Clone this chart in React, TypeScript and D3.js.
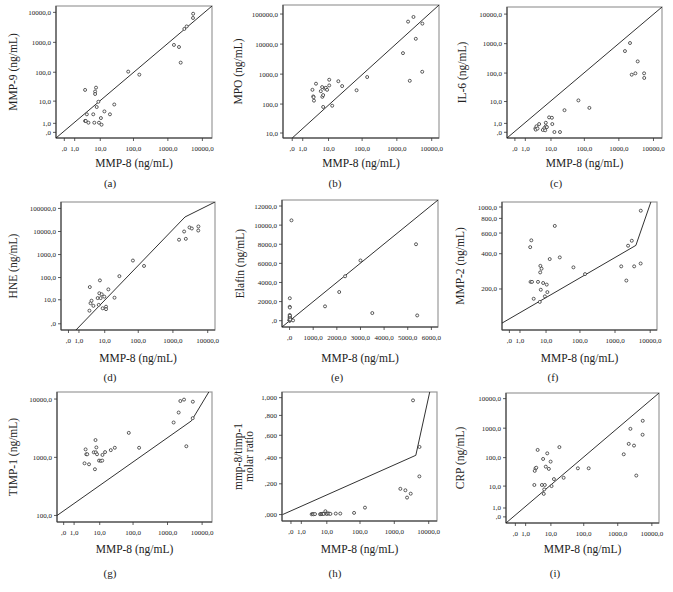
import * as d3 from "d3";

// MMP-8 on x for every panel; the y variable changes per panel
const logTicks = [0, 1, 10, 100, 1000, 10000];

const ptsA: [number, number][] = [
  [3, 25], [3, 1.4], [3.2, 1.4], [3.5, 3], [4, 1.1], [5.9, 3], [6.4, 1.1], [6.8, 22], [6.8, 18],
  [7.3, 30], [7.7, 6], [8.7, 9.5], [9.1, 1.1], [10.5, 2], [11, 0.8], [13.5, 4], [20, 3], [27, 7.5],
  [70, 105], [148, 83], [1500, 820], [2100, 700], [2350, 210], [3000, 2800], [3500, 3400], [5400, 9000], [5350, 6500],
];
const ptsB: [number, number][] = [
  [2.8, 300], [3, 180], [3.1, 170], [3.2, 130], [3.8, 480], [5.6, 270], [6.2, 370], [6.3, 175], [6.7, 200],
  [6.7, 80], [7.6, 330], [8.2, 350], [9, 300], [10.5, 650], [10.5, 420], [13, 88], [20, 580], [26, 400],
  [69, 290], [140, 800], [1500, 5000], [2100, 56000], [2350, 600], [3000, 80000], [3500, 15000], [5400, 48000], [5350, 1200],
];
const ptsC: [number, number][] = [
  [2.9, 0.35], [3, 0.23], [3.2, 0.6], [3.5, 0.34], [4, 0.9], [5.4, 0.2], [6.1, 0.4], [6.5, 0.17], [6.8, 0.6],
  [6.8, 1.1], [7.4, 0.5], [8.7, 2.2], [10.7, 2.1], [11, 0.9], [12.8, 0.02], [19, 0.02], [26, 4.6], [67, 11],
  [140, 5.7], [1500, 560], [2100, 1050], [2350, 88], [3000, 98], [3500, 250], [5350, 98], [5400, 68],
];
const ptsD: [number, number][] = [
  [3, 2.7], [3.1, 38], [3.3, 6.8], [3.6, 9], [4.2, 5], [5.9, 12], [6.4, 5.6], [6.7, 20], [7, 75],
  [7.4, 12], [8, 18], [8.6, 3.7], [9.7, 14], [11, 4.5], [11, 3.3], [13, 30], [20, 12.5], [28, 115],
  [70, 550], [147, 320], [1500, 4400], [2100, 10000], [2350, 4800], [3000, 15000], [3500, 13500], [5400, 16500], [5350, 11000],
];
const ptsE: [number, number][] = [
  [80, 10500], [10, 2350], [8, 1450], [12, 1380], [5, 600], [7, 450], [3, 300], [9, 150], [4, 80],
  [6, 30], [10, 200], [12, 60], [8, 20], [3, 10], [7, 100], [11, 380], [13, 520], [20, 250], [27, 120],
  [148, 30], [1500, 1500], [2100, 3000], [2350, 4650], [3000, 6300], [3500, 800], [5350, 8000], [5400, 550],
];
const ptsF: [number, number][] = [
  [2.9, 455], [3.2, 520], [3, 230], [3.4, 230], [3.9, 165], [5.5, 230], [6.5, 277], [6.6, 315], [7.2, 298],
  [6.8, 197], [6.3, 155], [8.1, 225], [9.2, 173], [10.5, 218], [11, 188], [13, 360], [18.5, 690], [26, 372],
  [65, 306], [140, 268], [1500, 312], [2100, 236], [2350, 468], [3000, 516], [3500, 312], [5350, 330], [5400, 930],
];
const ptsG: [number, number][] = [
  [3.3, 1370], [3, 790], [3.5, 1130], [3.8, 1130], [4.4, 760], [6.4, 1220], [7.3, 1980], [7, 625], [7.5, 1220],
  [7.8, 1480], [8.2, 1130], [9.5, 880], [10.8, 870], [12, 880], [12.2, 1100], [14.7, 1230], [22, 1330], [29, 1460],
  [75, 2630], [150, 1460], [1500, 3960], [2100, 5870], [2350, 9250], [3000, 9770], [3500, 1550], [5400, 9000], [5350, 4700],
];
const ptsH: [number, number][] = [
  [3, 0.002], [3.3, 0.003], [3.5, 0.002], [4, 0.003], [6, 0.002], [6.5, 0.004], [7, 0.003], [7.5, 0.005], [8, 0.004],
  [9, 0.02], [9.5, 0.006], [10, 0.004], [11, 0.007], [12, 0.005], [13, 0.004], [19, 0.006], [26, 0.006],
  [67, 0.01], [140, 0.042], [1500, 0.165], [2100, 0.155], [2350, 0.106], [3000, 0.132], [3500, 0.968], [5400, 0.493], [5350, 0.254],
];
const ptsI: [number, number][] = [
  [2.6, 11], [2.7, 35], [2.9, 43], [3.1, 45], [3.5, 183], [5, 11], [5.5, 90], [5.8, 5], [6, 7.5],
  [6.3, 11], [6.8, 49], [7.6, 140], [8.6, 41], [9.8, 73], [10.5, 10], [12.5, 18], [18.5, 228], [25, 20],
  [67, 43], [140, 43], [1500, 130], [2100, 294], [2350, 950], [3000, 257], [3500, 24], [5400, 1780], [5350, 600],
];

// reference lines, as vertices in data units
const lineA: [number, number][] = [[-0.74, -0.54], [19000, 16300]];
const lineB: [number, number][] = [[0, 6.5], [16200, 200000]];
const lineC: [number, number][] = [[-0.69, -0.56], [17600, 17400]];
const lineD: [number, number][] = [[0.64, -0.86], [2230, 42700], [16200, 190000]];
const lineE: [number, number][] = [[-320, -660], [6280, 12630]];
const lineF: [number, number][] = [[-0.62, 102], [3920, 471], [10470, 1104]];
const lineG: [number, number][] = [[-0.55, 100], [4900, 4220], [15600, 13200]];
const lineH: [number, number][] = [[-0.75, 0], [4220, 0.421], [10700, 1.068]];
const lineI: [number, number][] = [[-0.88, -0.61], [16200, 15500]];

const ticksE_x = [0, 1000, 2000, 3000, 4000, 5000, 6000];
const ticksE_y = [0, 2000, 4000, 6000, 8000, 10000, 12000];
const ticksF_y = [200, 400, 600, 800, 1000];
const ticksH_y = [0, 0.2, 0.4, 0.6, 0.8, 1.0];

const fmt = (d: number) => (v: number) => {
  const s = v.toFixed(d).replace(".", ",");
  return s.startsWith("0,") ? s.slice(1) : s;
};

type PanelDef = {
  tag: string;
  box: [number, number, number, number]; // left, top, right, bottom
  xType: "symlog" | "linear";
  yType: "symlog" | "linear";
  xDomain: [number, number];
  yDomain: [number, number];
  xTicks: number[];
  yTicks: number[];
  yDec: number;
  yLabel: string[];
  yLabelX: number;
  pts: [number, number][];
  line: [number, number][];
  tagX: number;
};

const rowY = [
  { xl: 163, tag: 183 },
  { xl: 358, tag: 377 },
  { xl: 549, tag: 573 },
];

const panels: (PanelDef & { row: number })[] = [
  { row: 0, tag: "(a)", box: [56, 6, 212, 138], xType: "symlog", yType: "symlog", xDomain: [-0.74, 19000], yDomain: [-0.54, 16300], xTicks: logTicks, yTicks: [0, 1, 10, 100, 1000, 10000], yDec: 1, yLabel: ["MMP-9 (ng/mL)"], yLabelX: 13, pts: ptsA, line: lineA, tagX: 110 },
  { row: 0, tag: "(b)", box: [283, 5, 439, 138], xType: "symlog", yType: "symlog", xDomain: [-0.84, 16200], yDomain: [6.5, 200000], xTicks: logTicks, yTicks: [10, 100, 1000, 10000, 100000], yDec: 1, yLabel: ["MPO (ng/mL)"], yLabelX: 238, pts: ptsB, line: lineB, tagX: 335 },
  { row: 0, tag: "(c)", box: [507, 7, 662, 138], xType: "symlog", yType: "symlog", xDomain: [-0.69, 17600], yDomain: [-0.56, 17400], xTicks: logTicks, yTicks: [0, 1, 10, 100, 1000, 10000], yDec: 1, yLabel: ["IL-6 (ng/mL)"], yLabelX: 462, pts: ptsC, line: lineC, tagX: 556 },
  { row: 1, tag: "(d)", box: [61, 202, 215, 330], xType: "symlog", yType: "symlog", xDomain: [-0.64, 16200], yDomain: [-0.86, 190000], xTicks: logTicks, yTicks: [0, 10, 100, 1000, 10000, 100000], yDec: 1, yLabel: ["HNE (ng/mL)"], yLabelX: 13, pts: ptsD, line: lineD, tagX: 110 },
  { row: 1, tag: "(e)", box: [282, 200, 438, 327], xType: "linear", yType: "linear", xDomain: [-320, 6280], yDomain: [-660, 12630], xTicks: ticksE_x, yTicks: ticksE_y, yDec: 1, yLabel: ["Elafin (ng/mL)"], yLabelX: 240, pts: ptsE, line: lineE, tagX: 337 },
  { row: 1, tag: "(f)", box: [502, 202, 657, 330], xType: "symlog", yType: "symlog", xDomain: [-0.62, 15600], yDomain: [89, 1103], xTicks: logTicks, yTicks: ticksF_y, yDec: 1, yLabel: ["MMP-2 (ng/mL)"], yLabelX: 460, pts: ptsF, line: lineF, tagX: 553 },
  { row: 2, tag: "(g)", box: [57, 392, 212, 522], xType: "symlog", yType: "symlog", xDomain: [-0.56, 19300], yDomain: [77, 13200], xTicks: logTicks, yTicks: [100, 1000, 10000], yDec: 1, yLabel: ["TIMP-1 (ng/mL)"], yLabelX: 13, pts: ptsG, line: lineG, tagX: 110 },
  { row: 2, tag: "(h)", box: [282, 392, 437, 521], xType: "symlog", yType: "symlog", xDomain: [-0.82, 17400], yDomain: [-0.0388, 1.068], xTicks: logTicks, yTicks: ticksH_y, yDec: 3, yLabel: ["mmp-8/timp-1", "molar ratio"], yLabelX: 238, pts: ptsH, line: lineH, tagX: 335 },
  { row: 2, tag: "(i)", box: [506, 393, 659, 523], xType: "symlog", yType: "symlog", xDomain: [-0.88, 16200], yDomain: [-0.61, 15500], xTicks: logTicks, yTicks: [0, 1, 10, 100, 1000, 10000], yDec: 1, yLabel: ["CRP (ng/mL)"], yLabelX: 460, pts: ptsI, line: lineI, tagX: 555 },
];

const FONT = "'Liberation Serif', 'DejaVu Serif', serif";

function makeScale(type: "symlog" | "linear", domain: [number, number], range: [number, number]) {
  if (type === "symlog") return d3.scaleSymlog().constant(1).domain(domain).range(range);
  return d3.scaleLinear().domain(domain).range(range);
}

function Panel({ p, i }: { p: PanelDef & { row: number }; i: number }) {
  const [l, t, r, b] = p.box;
  const x = makeScale(p.xType, p.xDomain, [l, r]);
  const y = makeScale(p.yType, p.yDomain, [b, t]);
  const line = d3
    .line<[number, number]>()
    .x((d) => x(d[0]))
    .y((d) => y(d[1]));
  const clipId = `clip-${i}`;
  const ry = rowY[p.row];
  const midX = (l + r) / 2;
  const midY = (t + b) / 2;
  return (
    <g>
      <defs>
        <clipPath id={clipId}>
          <rect x={l} y={t} width={r - l} height={b - t} />
        </clipPath>
      </defs>
      <rect x={l} y={t} width={r - l} height={b - t} fill="none" stroke="#9a9a9a" strokeWidth={1.2} />
      <line x1={l} x2={l} y1={t} y2={b} stroke="#333" strokeWidth={1} />
      <line x1={l} x2={r} y1={b} y2={b} stroke="#333" strokeWidth={1} />
      <g clipPath={`url(#${clipId})`}>
        <path d={line(p.line) ?? ""} fill="none" stroke="#1a1a1a" strokeWidth={0.9} />
        {p.pts.map((d, k) => (
          <circle key={k} cx={x(d[0])} cy={y(d[1])} r={1.5} fill="#fff" stroke="#333" strokeWidth={0.8} />
        ))}
      </g>
      {p.xTicks.map((v) => (
        <g key={"x" + v}>
          <line x1={x(v)} x2={x(v)} y1={b} y2={b + 3} stroke="#333" strokeWidth={0.8} />
          <text x={x(v)} y={b + 13} fontSize={7} fontFamily={FONT} textAnchor="middle" fill="#222">
            {fmt(1)(v)}
          </text>
        </g>
      ))}
      {p.yTicks.map((v) => (
        <g key={"y" + v}>
          <line x1={l - 3} x2={l} y1={y(v)} y2={y(v)} stroke="#333" strokeWidth={0.8} />
          <text x={l - 5} y={y(v) + 2.5} fontSize={7} fontFamily={FONT} textAnchor="end" fill="#222">
            {fmt(p.yDec)(v)}
          </text>
        </g>
      ))}
      <text x={midX} y={ry.xl + 4} fontSize={11.5} fontFamily={FONT} textAnchor="middle" fill="#222">
        MMP-8 (ng/mL)
      </text>
      <text
        transform={`translate(${p.yLabelX + 4},${midY}) rotate(-90)`}
        fontSize={11.5}
        fontFamily={FONT}
        textAnchor="middle"
        fill="#222"
      >
        {p.yLabel.map((s, k) => (
          <tspan key={k} x={0} dy={k === 0 ? 0 : 10.5}>
            {s}
          </tspan>
        ))}
      </text>
      <text x={p.tagX} y={ry.tag + 4} fontSize={11} fontFamily={FONT} textAnchor="middle" fill="#222">
        {p.tag}
      </text>
    </g>
  );
}

export default function App() {
  return (
    <svg width={673} height={592} style={{ position: "absolute", left: 0, top: 0, background: "#fff" }}>
      <rect width={673} height={592} fill="#fff" />
      {panels.map((p, i) => (
        <Panel key={p.tag} p={p} i={i} />
      ))}
    </svg>
  );
}
